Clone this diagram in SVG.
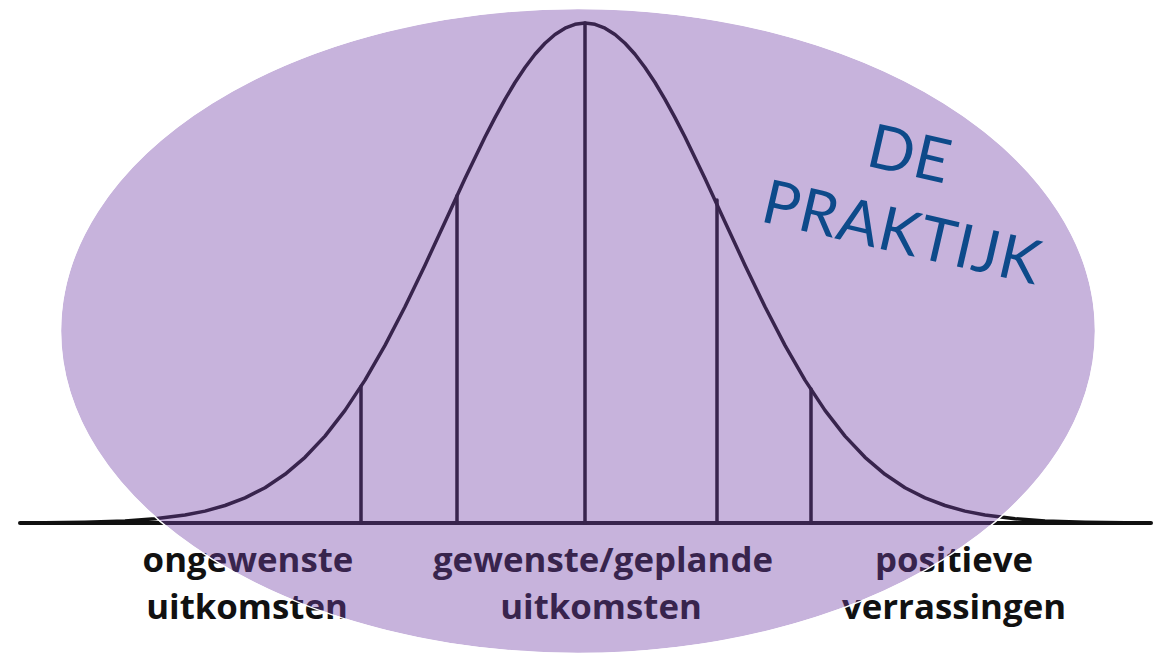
<svg xmlns="http://www.w3.org/2000/svg" width="1161" height="654" viewBox="0 0 1161 654">
<style>
.crv{fill:none;stroke:#111;stroke-width:3.5;stroke-linejoin:round;stroke-linecap:round}
.lbl{font-family:"Open Sans","Liberation Sans",sans-serif;font-weight:700;font-size:34.8px;fill:#111;text-anchor:middle}
.title{font-family:Lato,"Open Sans",sans-serif;font-weight:400;font-size:61px;fill:#0d4a8a;text-anchor:middle;letter-spacing:1px}
</style>
<rect width="1161" height="654" fill="#fff"/>
<g id="connectors">
<line class="crv" x1="20" y1="523" x2="1151" y2="523" style="stroke-width:4"/>
<path id="bell" class="crv" d="M45,522.7 L85,522.2 L125,520.9 L155,518.8 L185,515 L205,511.1 L225,505.5 L245,497.9 L265,487.7 L285,474.3 L305,457.3 L325,436.1 L345,410.4 L365,380.1 L385,345.4 L405,306.8 L425,265.2 L445,221.9 L465,178.6 L485,137 L495,117.6 L505,99.3 L515,82.5 L525,67.5 L535,54.3 L545,43.3 L555,34.5 L565,28.2 L575,24.3 L585,23 L595,24.3 L605,28.2 L615,34.5 L625,43.3 L635,54.3 L645,67.5 L655,82.5 L665,99.3 L675,117.6 L685,137 L705,178.6 L725,221.9 L745,265.2 L765,306.8 L785,345.4 L805,380.1 L825,410.4 L845,436.1 L865,457.3 L885,474.3 L905,487.7 L925,497.9 L945,505.5 L965,511.1 L985,515 L1015,518.8 L1045,520.9 L1085,522.2 L1125,522.7"/>
<line class="crv" x1="361" y1="386.5" x2="361" y2="523"/>
<line class="crv" x1="457" y1="195.8" x2="457" y2="523"/>
<line class="crv" x1="585" y1="23" x2="585" y2="523"/>
<line class="crv" x1="717" y1="200" x2="717" y2="523"/>
<line class="crv" x1="811" y1="389" x2="811" y2="523"/>
</g>
<g id="label-ongewenst"><text class="lbl" x="248" y="572">ongewenste</text><text class="lbl" x="247" y="619">uitkomsten</text></g>
<g id="label-gewenst"><text class="lbl" x="603" y="572">gewenste/geplande</text><text class="lbl" x="601" y="619">uitkomsten</text></g>
<g id="label-positief"><text class="lbl" x="954" y="572">positieve</text><text class="lbl" x="954" y="619">verrassingen</text></g>
<g id="praktijk">
<ellipse cx="578" cy="331" rx="517" ry="322" fill="#7441a8" fill-opacity="0.4"/>
<ellipse cx="578" cy="331" rx="517.5" ry="322.5" fill="none" stroke="#fff" stroke-width="1.5"/>
<g transform="translate(905,193) rotate(13)">
<text class="title" x="-4" y="-18">DE</text>
<text class="title" x="6" y="60">PRAKTIJK</text>
</g>
</g>
</svg>
